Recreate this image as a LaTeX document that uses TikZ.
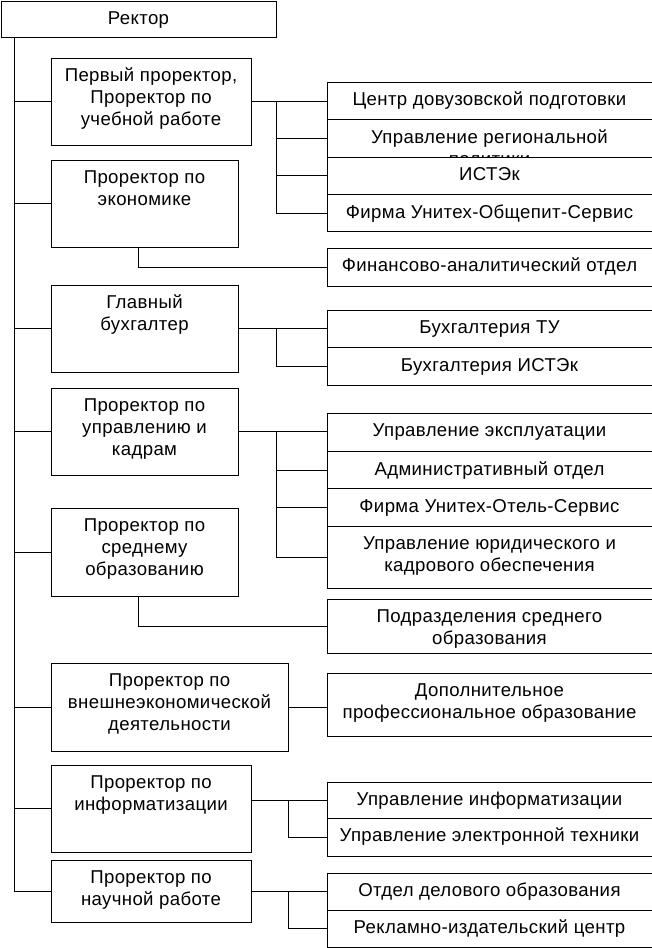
\documentclass[tikz,border=0pt]{standalone}
\usepackage{fontspec}
\setmainfont{Liberation Sans}[LetterSpace=2]
\usetikzlibrary{positioning}

% text of a box: top aligned, fixed size
\newcommand{\cell}[3]{\parbox[t][#2][t]{#1}{\centering\rule{0pt}{23.5pt}#3}}

\begin{document}
\begin{tikzpicture}[x=1pt, y=-1pt, line width=1pt,
    unit/.style={draw, fill=white, inner sep=0pt, outer sep=0pt, anchor=north west,
                 font=\fontsize{18.6}{22}\selectfont}]
  \useasboundingbox (0,0) rectangle (651,948);

  % head
  \node[unit] (rector) at (1,1) {\cell{275pt}{36pt}{Ректор}};

  % prorectors
  \node[unit] (pr1)  at (51,58)  {\cell{200pt}{87pt}{Первый проректор,\\Проректор по\\учебной работе}};
  \node[unit] (econ) at (51,160) {\cell{187pt}{87pt}{Проректор по\\экономике}};
  \node[unit] (buh)  at (51,285) {\cell{187pt}{87pt}{Главный\\бухгалтер}};
  \node[unit] (kadr) at (51,388) {\cell{187pt}{87pt}{Проректор по\\управлению и\\кадрам}};
  \node[unit] (sred) at (51,508) {\cell{187pt}{88pt}{Проректор по\\среднему\\образованию}};
  \node[unit] (ved)  at (51,663) {\cell{237pt}{88pt}{Проректор по\\внешнеэкономической\\деятельности}};
  \node[unit] (inf)  at (51,765) {\cell{200pt}{87pt}{Проректор по\\информатизации}};
  \node[unit] (sci)  at (51,860) {\cell{200pt}{62pt}{Проректор по\\научной работе}};

  % departments
  \node[unit] (cdp)   at (327,82)    {\cell{325pt}{37.5pt}{Центр довузовской подготовки}};
  \node[unit] (reg)   at (327,119.5) {\cell{325pt}{37.5pt}{Управление региональной\\политики}};
  \node[unit] (istek) at (327,157)   {\cell{325pt}{37.5pt}{ИСТЭк}};
  \node[unit] (firm)  at (327,194.5) {\cell{325pt}{37pt}{Фирма Унитех-Общепит-Сервис}};
  \node[unit] (fin)   at (327,248)   {\cell{325pt}{38pt}{Финансово-аналитический отдел}};
  \node[unit] (btu)   at (327,310)   {\cell{325pt}{37.5pt}{Бухгалтерия ТУ}};
  \node[unit] (bist)  at (327,347.5) {\cell{325pt}{37.5pt}{Бухгалтерия ИСТЭк}};
  \node[unit] (expl)  at (327,413)   {\cell{325pt}{38.5pt}{Управление эксплуатации}};
  \node[unit] (adm)   at (327,451.5) {\cell{325pt}{37pt}{Административный отдел}};
  \node[unit] (hotel) at (327,488.5) {\cell{325pt}{37.5pt}{Фирма Унитех-Отель-Сервис}};
  \node[unit] (law)   at (327,526)   {\cell{325pt}{62pt}{Управление юридического и\\кадрового обеспечения}};
  \node[unit] (podr)  at (327,599)   {\cell{325pt}{54pt}{Подразделения среднего\\образования}};
  \node[unit] (dpo)   at (327,673)   {\cell{325pt}{63pt}{Дополнительное\\профессиональное образование}};
  \node[unit] (infm)  at (327,782)   {\cell{325pt}{36pt}{Управление информатизации}};
  \node[unit] (elec)  at (327,818)   {\cell{325pt}{38pt}{Управление электронной техники}};
  \node[unit] (del)   at (327,873)   {\cell{325pt}{37pt}{Отдел делового образования}};
  \node[unit] (rek)   at (327,910)   {\cell{325pt}{37pt}{Рекламно-издательский центр}};

  % trunk
  \coordinate (trunk) at ([xshift=13pt]rector.south west);
  \draw (trunk) |- (sci.west);
  \foreach \n in {pr1,econ,buh,kadr,sred,ved,inf}
    \draw (\n.west) -- (\n.west -| trunk);

  % branches
  \draw (pr1.east) -- (pr1.east -| cdp.west);
  \foreach \n in {reg,istek,firm}
    \draw ([xshift=25pt]pr1.east) |- (\n.west);
  \draw ([xshift=87pt]econ.south west) |- (fin.west);
  \draw (buh.east) -- (buh.east -| btu.west);
  \draw ([xshift=38pt]buh.east) |- (bist.west);
  \draw (kadr.east) -- (kadr.east -| expl.west);
  \foreach \n in {adm,hotel,law}
    \draw ([xshift=38pt]kadr.east) |- (\n.west);
  \draw ([xshift=87pt]sred.south west) |- (podr.west);
  \draw (ved.east) -- (ved.east -| dpo.west);
  \coordinate (ij) at (infm.west -| inf.east);
  \draw (ij) -- (infm.west);
  \draw ([xshift=37pt]ij) |- (elec.west);
  \draw (sci.east) -- (sci.east -| del.west);
  \draw ([xshift=37pt]sci.east) |- (rek.west);
\end{tikzpicture}
\end{document}
